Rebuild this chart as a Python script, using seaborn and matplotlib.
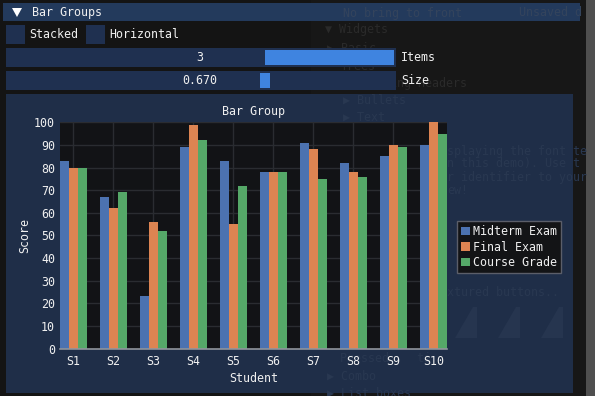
import matplotlib
matplotlib.use("Agg")
import matplotlib.pyplot as plt
import matplotlib.patches as mpatches
import numpy as np
import pandas as pd
import seaborn as sns

# ---- data ----
students = ["S1", "S2", "S3", "S4", "S5", "S6", "S7", "S8", "S9", "S10"]
midterm = [83, 67, 23, 89, 83, 78, 91, 82, 85, 90]
final = [80, 62, 56, 99, 55, 78, 88, 78, 90, 100]
course = [80, 69, 52, 92, 72, 78, 75, 76, 89, 95]
series_names = ["Midterm Exam", "Final Exam", "Course Grade"]
yticks = [0, 10, 20, 30, 40, 50, 60, 70, 80, 90, 100]

df = pd.DataFrame({
    "Student": students * 3,
    "Score": midterm + final + course,
    "Series": [series_names[0]] * 10 + [series_names[1]] * 10 + [series_names[2]] * 10,
})

sns.set_theme(style="dark")
plt.rcParams["font.family"] = ["DejaVu Sans Mono", "DejaVu Sans"]

W, H = 595, 396
FS = 8.4
TXT = "#f0f0f0"
fig = plt.figure(figsize=(W / 100, H / 100), dpi=100, facecolor="#141414")

# ---- background UI (pixel coordinates) ----
bg = fig.add_axes([0, 0, 1, 1], zorder=0)
bg.set_xlim(0, W)
bg.set_ylim(H, 0)
bg.axis("off")

def rect(x0, y0, x1, y1, c, **kw):
    bg.add_patch(mpatches.Rectangle((x0, y0), x1 - x0, y1 - y0, facecolor=c,
                                    edgecolor="none", **kw))

rect(0, 0, W, H, "#141414")
rect(311, 0, 586, H, "#171717")
rect(586, 0, W, H, "#4f4f4f")
# header
rect(3, 3, 580, 21, "#233a5c")
# ghost text from window behind (very faint)
ghost = "#2a2a2a"
for (x, y, s, c) in [(343, 13, "No bring to front", "#34445c"),
                     (519, 13, "Unsaved d", "#34445c"),
                     (325, 29, "\u25bc Widgets", ghost), (327, 48, "\u25b6 Basic", ghost),
                     (341, 66, "Trees", ghost),
                     (327, 83, "\u25b6 Collapsing Headers", ghost)]:
    bg.text(x, y, s, color=c, fontsize=FS, va="center", ha="left", zorder=1)
bg.add_patch(mpatches.Polygon([[12, 8], [22, 8], [17, 17]], closed=True,
                              facecolor="white", edgecolor="none", zorder=2))
bg.text(31.5, 12.5, "Bar Groups", color=TXT, fontsize=FS, va="center", ha="left", zorder=2)
# checkboxes
rect(6, 25, 25, 44, "#1f3050")
bg.text(29, 34.5, "Stacked", color=TXT, fontsize=FS, va="center", ha="left")
rect(86, 25, 105, 44, "#1f3050")
bg.text(109.5, 34.5, "Horizontal", color=TXT, fontsize=FS, va="center", ha="left")
# sliders
rect(6, 48, 396, 67, "#1f3050", zorder=2)
rect(265, 50, 394, 65, "#3f84e0", zorder=2)
bg.text(200, 57.5, "3", color=TXT, fontsize=FS, va="center", ha="center", zorder=3)
bg.text(401, 57.5, "Items", color=TXT, fontsize=FS, va="center", ha="left", zorder=3)
rect(6, 71, 396, 90, "#1f3050", zorder=2)
rect(260, 73, 270, 88, "#3f84e0", zorder=2)
bg.text(200, 80.5, "0.670", color=TXT, fontsize=FS, va="center", ha="center", zorder=3)
bg.text(401, 80.5, "Size", color=TXT, fontsize=FS, va="center", ha="left", zorder=3)
# plot frame panel
rect(6, 94, 573, 393, "#1f2e48", zorder=2)
pghost = "#293851"
for (x, y, s) in [(343, 100, "\u25b6 Bullets"), (343, 117, "\u25b6 Text"),
                  (447, 152, "splaying the font te"), (447, 164, "n this demo). Use t"),
                  (447, 177, "r identifier to your"), (447, 190, "ew!"),
                  (447, 293, "xtured buttons.."),
                  (340, 359, "Pressed    ti"),
                  (327, 376, "\u25b6 Combo"), (327, 393, "\u25b6 List boxes")]:
    bg.text(x, y, s, color=pghost, fontsize=FS, va="center", ha="left", zorder=3,
            clip_on=True)
for x0 in [447, 490, 533]:
    bg.add_patch(mpatches.Polygon([[x0 + 26, 307], [x0 + 30, 307], [x0 + 30, 338],
                                   [x0 + 8, 338]], closed=True,
                                  facecolor="#26354f", edgecolor="none", zorder=3))

# ---- plot ----
px0, px1, py0, py1 = 60, 446.7, 122.3, 348.5
ax = fig.add_axes([px0 / W, 1 - py1 / H, (px1 - px0) / W, (py1 - py0) / H], zorder=2)
ax.set_facecolor("#121316")

palette = ["#4c72b0", "#dd8452", "#55a868"]
sns.barplot(data=df, x="Student", y="Score", hue="Series", palette=palette,
            saturation=1, width=0.67, gap=0, linewidth=0, ax=ax, legend=False)
for p in ax.patches:
    p.set_zorder(3)

ax.set_xlim(-0.335, 9.335)
ax.set_ylim(0, 100)
ax.set_yticks(yticks)
ax.set_yticklabels([str(v) for v in yticks])
ax.grid(False)
gridc = "#2a2c31"
for v in yticks[1:]:
    ax.axhline(v, color=gridc, linewidth=1, zorder=1)
for i in range(len(students)):
    ax.axvline(i, color=gridc, linewidth=1, zorder=1)
for side in ["top", "right", "left"]:
    ax.spines[side].set_visible(False)
ax.spines["bottom"].set_color("#8f949c")
ax.spines["bottom"].set_linewidth(1.2)
ax.spines["bottom"].set_zorder(5)

ax.tick_params(axis="x", direction="in", length=3.6, width=1,
               color=(1, 1, 1, 0.35), labelcolor=TXT, labelsize=FS, pad=5)
ax.tick_params(axis="y", direction="in", length=7, width=1,
               color=(1, 1, 1, 0.3), labelcolor=TXT, labelsize=FS, pad=3.6)
for t in ax.xaxis.get_major_ticks() + ax.yaxis.get_major_ticks():
    t.tick1line.set_zorder(6)

ax.set_title("Bar Group", color=TXT, fontsize=FS, pad=5)
ax.set_xlabel("Student", color=TXT, fontsize=FS, labelpad=2.5)
ax.set_ylabel("Score", color=TXT, fontsize=FS, labelpad=2)

# legend
handles = [mpatches.Patch(facecolor=c, edgecolor="none", label=n)
           for c, n in zip(palette, series_names)]
leg = fig.legend(handles=handles, loc="upper left",
                 bbox_to_anchor=(457 / W, 1 - 221 / H), frameon=True,
                 fontsize=FS, handlelength=0.75, handleheight=0.75,
                 handletextpad=0.3, labelspacing=0.22, borderpad=0.35,
                 borderaxespad=0, fancybox=False)
leg.get_frame().set_facecolor("#131416")
leg.get_frame().set_edgecolor("#5b5e69")
leg.get_frame().set_linewidth(1)
leg.get_frame().set_alpha(1)
leg.set_zorder(10)
for t in leg.get_texts():
    t.set_color(TXT)

fig.savefig("out.png", dpi=100, facecolor=fig.get_facecolor())
